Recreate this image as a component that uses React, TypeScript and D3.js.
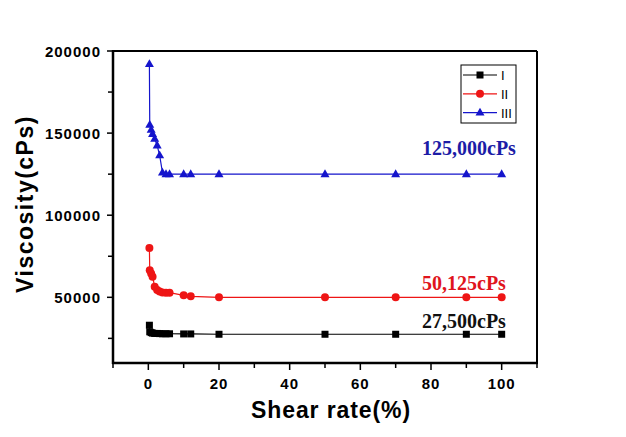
import React from "react";
import * as d3 from "d3";

const shearRate = [0.3, 0.4, 0.8, 1.2, 1.8, 2.5, 3.2, 4, 5, 6, 10, 12, 20, 50, 70, 90, 100];
const seriesI = [33000, 29000, 28500, 28200, 28000, 28000, 27900, 27800, 27800, 27800, 27700, 27700, 27500, 27500, 27500, 27500, 27500];
const seriesII = [80000, 66500, 64500, 62500, 56500, 54500, 53500, 53000, 52800, 52800, 51200, 50600, 50000, 50000, 50000, 50000, 50000];
const seriesIII = [192000, 155000, 152000, 149500, 146500, 142500, 136500, 126000, 125000, 125000, 125000, 125000, 125000, 125000, 125000, 125000, 125000];
const seriesNames = ["I", "II", "III"];
const annotations = ["27,500cPs", "50,125cPs", "125,000cPs"];
const xMajorTicks = [0, 20, 40, 60, 80, 100];
const xMinorTicks = [-10, 10, 30, 50, 70, 90, 110];
const yMajorTicks = [50000, 100000, 150000, 200000];
const yMinorTicks = [25000, 75000, 125000, 175000];

const W = 626, H = 437;
const L = 113, R = 537, T = 51, B = 363;

export default function App() {
  const x = d3.scaleLinear().domain([-10, 110]).range([L, R]);
  const y = d3.scaleLinear().domain([10000, 200000]).range([B, T]);
  const line = d3.line<number>().x((_, i) => x(shearRate[i])).y((d) => y(d));

  const series = [
    { name: seriesNames[0], vals: seriesI, color: "#000000", marker: "square", ann: annotations[0], annColor: "#111111", annY: 328 },
    { name: seriesNames[1], vals: seriesII, color: "#ee1515", marker: "circle", ann: annotations[1], annColor: "#e0141c", annY: 290 },
    { name: seriesNames[2], vals: seriesIII, color: "#1515cc", marker: "triangle", ann: annotations[2], annColor: "#1c1ca6", annY: 155 },
  ];

  const marker = (type: string, cx: number, cy: number, color: string, key: any) => {
    if (type === "square") return <rect key={key} x={cx - 3.5} y={cy - 3.5} width={7} height={7} fill={color} />;
    if (type === "circle") return <circle key={key} cx={cx} cy={cy} r={4} fill={color} />;
    const s = 9;
    const h = s * 0.87;
    return <path key={key} d={`M${cx},${cy - h * 0.62}L${cx + s / 2},${cy + h * 0.38}L${cx - s / 2},${cy + h * 0.38}Z`} fill={color} />;
  };

  const tickFont = { fontFamily: "Liberation Sans, Arial, sans-serif", fontWeight: 700, fontSize: 15, letterSpacing: 1 } as const;

  return (
    <div style={{ position: "fixed", left: 0, top: 0 }}>
      <svg width={W} height={H} style={{ display: "block", background: "#fff" }}>
        {/* frame */}
        <line x1={L} y1={T} x2={R} y2={T} stroke="#000" strokeWidth={2} />
        <line x1={R} y1={T} x2={R} y2={B} stroke="#000" strokeWidth={2} />
        <line x1={L} y1={T - 1} x2={L} y2={B + 1} stroke="#000" strokeWidth={2.5} />
        <line x1={L - 1} y1={B} x2={R + 1} y2={B} stroke="#000" strokeWidth={2.5} />

        {/* x ticks */}
        {xMajorTicks.map((t) => (
          <g key={"xm" + t}>
            <line x1={x(t)} x2={x(t)} y1={B} y2={B + 7} stroke="#000" strokeWidth={1.5} />
            <text x={x(t)} y={389} textAnchor="middle" style={tickFont}>{t}</text>
          </g>
        ))}
        {xMinorTicks.map((t) => (
          <line key={"xn" + t} x1={x(t)} x2={x(t)} y1={B} y2={B + 5} stroke="#000" strokeWidth={1.5} />
        ))}

        {/* y ticks */}
        {yMajorTicks.map((t) => (
          <g key={"ym" + t}>
            <line x1={L - 6} x2={L} y1={y(t)} y2={y(t)} stroke="#000" strokeWidth={1.5} />
            <text x={101} y={y(t) + 5.5} textAnchor="end" style={tickFont}>{t}</text>
          </g>
        ))}
        {yMinorTicks.map((t) => (
          <line key={"yn" + t} x1={L - 5} x2={L} y1={y(t)} y2={y(t)} stroke="#000" strokeWidth={1.5} />
        ))}

        {/* axis titles */}
        <text x={(L + R) / 2 + 6} y={418} textAnchor="middle"
          style={{ fontFamily: "Liberation Sans, Arial, sans-serif", fontWeight: 700, fontSize: 23, letterSpacing: 0.9 }}>
          Shear rate(%)
        </text>
        <text transform={`translate(33,${204}) rotate(-90)`} textAnchor="middle"
          style={{ fontFamily: "Liberation Sans, Arial, sans-serif", fontWeight: 700, fontSize: 23, letterSpacing: 1.5 }}>
          Viscosity(cPs)
        </text>

        {/* series */}
        {series.map((s) => (
          <g key={s.name}>
            <path d={line(s.vals) || ""} fill="none" stroke={s.color} strokeWidth={1.2} />
            {s.vals.map((v, i) => marker(s.marker, x(shearRate[i]), y(v), s.color, i))}
            <text x={422} y={s.annY} fill={s.annColor}
              style={{ fontFamily: "Liberation Serif, Times New Roman, serif", fontWeight: 700, fontSize: 20 }}>
              {s.ann}
            </text>
          </g>
        ))}

        {/* legend */}
        <rect x={461} y={65} width={55} height={58} fill="#fff" stroke="#000" strokeWidth={1} />
        {series.map((s, i) => {
          const ly = 75 + i * 18.8;
          return (
            <g key={"lg" + s.name}>
              <line x1={463} x2={497} y1={ly} y2={ly} stroke={s.color} strokeWidth={1.2} />
              {marker(s.marker, 480, ly, s.color, "m")}
              <text x={501} y={ly + 5} style={{ fontFamily: "Liberation Sans, Arial, sans-serif", fontSize: 13 }}>{s.name}</text>
            </g>
          );
        })}
      </svg>
    </div>
  );
}
